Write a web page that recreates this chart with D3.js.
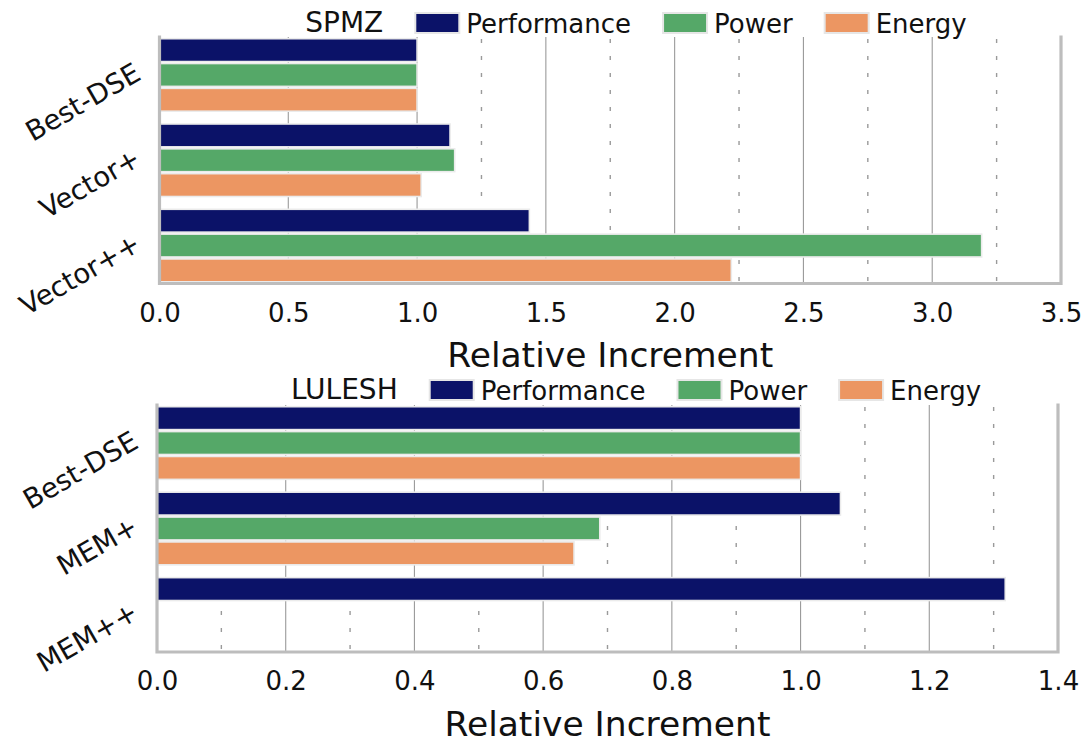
<!DOCTYPE html>
<html>
<head>
<meta charset="utf-8">
<script src="https://cdn.jsdelivr.net/npm/d3@7"></script>
<style>
  html, body { margin: 0; padding: 0; background: #ffffff; }
  svg { display: block; }
</style>
</head>
<body>
<svg id="chart" width="1089" height="747"></svg>
<script>
// ---- data ----
const seriesNames = ["Performance", "Power", "Energy"];

const spmzCategories = ["Best-DSE", "Vector+", "Vector++"];
const spmzPerformance = [1.0, 1.128, 1.436];
const spmzPower       = [1.0, 1.146, 3.192];
const spmzEnergy      = [1.0, 1.016, 2.220];
const spmzTicks       = [0.0, 0.5, 1.0, 1.5, 2.0, 2.5, 3.0, 3.5];
const spmzMinorTicks  = [0.25, 0.75, 1.25, 1.75, 2.25, 2.75, 3.25];

const luleshCategories = ["Best-DSE", "MEM+", "MEM++"];
const luleshPerformance = [1.0, 1.062, 1.318];
const luleshPower       = [1.0, 0.688, null];
const luleshEnergy      = [1.0, 0.648, null];
const luleshTicks       = [0.0, 0.2, 0.4, 0.6, 0.8, 1.0, 1.2, 1.4];
const luleshMinorTicks  = [0.1, 0.3, 0.5, 0.7, 0.9, 1.1, 1.3];

const axisTitle = "Relative Increment";

// ---- styling ----
const colors = { Performance: "#0b1268", Power: "#55a868", Energy: "#ec9662" };
const spineColor = "#bdbdbd";
const gridColor = "#9a9a9a";
const textFont = "'DejaVu Sans', sans-serif";

const panels = [
  { title: "SPMZ", categories: spmzCategories,
    values: [spmzPerformance, spmzPower, spmzEnergy],
    ticks: spmzTicks, minor: spmzMinorTicks, maxX: 3.5,
    left: 159.5, right: 1061, top: 37, bottom: 283.5, legendBase: 33 },
  { title: "LULESH", categories: luleshCategories,
    values: [luleshPerformance, luleshPower, luleshEnergy],
    ticks: luleshTicks, minor: luleshMinorTicks, maxX: 1.4,
    left: 157, right: 1058, top: 405, bottom: 652, legendBase: 400 }
];

const svg = d3.select("#chart");

panels.forEach(p => {
  const g = svg.append("g");

  const x = d3.scaleLinear().domain([0, p.maxX]).range([p.left, p.right]);
  const y = d3.scaleBand().domain(p.categories)
    .range([p.top, p.bottom]).paddingInner(0.15).paddingOuter(0.02);
  const yInner = d3.scaleBand().domain(seriesNames)
    .range([0, y.bandwidth()]).paddingInner(0.08);

  // grid: solid at major ticks, dashed at minor ticks
  g.append("g").selectAll("line").data(p.ticks.slice(1, -1)).join("line")
    .attr("x1", d => x(d)).attr("x2", d => x(d))
    .attr("y1", p.top).attr("y2", p.bottom)
    .attr("stroke", gridColor).attr("stroke-width", 1.1);
  g.append("g").selectAll("line").data(p.minor).join("line")
    .attr("x1", d => x(d)).attr("x2", d => x(d))
    .attr("y1", p.top + 2).attr("y2", p.bottom)
    .attr("stroke", gridColor).attr("stroke-width", 1.4)
    .attr("stroke-dasharray", "4 13");

  // bars
  const rows = [];
  p.categories.forEach((c, i) => {
    seriesNames.forEach((s, j) => {
      const v = p.values[j][i];
      if (v !== null) rows.push({ cat: c, series: s, value: v });
    });
  });
  g.append("g").selectAll("rect").data(rows).join("rect")
    .attr("x", x(0))
    .attr("y", d => y(d.cat) + yInner(d.series))
    .attr("width", d => x(d.value) - x(0))
    .attr("height", yInner.bandwidth())
    .attr("fill", d => colors[d.series])
    .attr("stroke", "#ebebeb").attr("stroke-width", 1.6);

  // spines (left, bottom, right)
  g.append("path")
    .attr("d", `M${p.left},${p.top}V${p.bottom}H${p.right}V${p.top}`)
    .attr("fill", "none").attr("stroke", spineColor).attr("stroke-width", 3.2)
    .attr("stroke-linejoin", "miter").attr("stroke-linecap", "square");

  // x axis tick labels
  const xAxis = d3.axisBottom(x).tickValues(p.ticks)
    .tickFormat(d3.format(".1f")).tickSize(0).tickPadding(0);
  const ax = g.append("g").attr("transform", `translate(0,${p.bottom})`).call(xAxis);
  ax.select(".domain").remove();
  ax.selectAll("text")
    .attr("y", 38).attr("dy", null)
    .attr("font-family", textFont).attr("font-size", 26).attr("fill", "#111");

  // category labels, rotated
  const yAxis = d3.axisLeft(y).tickSize(0).tickPadding(0);
  const ay = g.append("g").call(yAxis);
  ay.select(".domain").remove();
  ay.selectAll(".tick text")
    .attr("x", null).attr("dy", null)
    .attr("text-anchor", "end")
    .attr("dominant-baseline", "central")
    .attr("transform", `translate(${p.left - 22},-5) rotate(-30)`)
    .attr("font-family", textFont).attr("font-size", 27.5).attr("fill", "#111");

  // axis title
  g.append("text")
    .attr("x", (p.left + p.right) / 2).attr("y", p.bottom + 83.5)
    .attr("text-anchor", "middle")
    .attr("font-family", textFont).attr("font-size", 34.5).attr("fill", "#111")
    .text(axisTitle);

  // legend: title followed by colour patches
  const lg = g.append("g");
  const titleText = lg.append("text")
    .attr("y", p.legendBase - 1)
    .attr("font-family", textFont).attr("font-size", 28).attr("fill", "#111")
    .text(p.title);
  const titleW = titleText.node().getComputedTextLength();
  const items = seriesNames.map(s => {
    const t = lg.append("text").attr("y", p.legendBase)
      .attr("font-family", textFont).attr("font-size", 26).attr("fill", "#111")
      .text(s);
    return { name: s, node: t, w: t.node().getComputedTextLength() };
  });
  const patchW = 44, patchH = 20, gapPatch = 7, gapItem = 32;
  const total = titleW + items.reduce((a, it) => a + gapItem + patchW + gapPatch + it.w, 0);
  let cx = 636 - total / 2;
  titleText.attr("x", cx);
  cx += titleW;
  items.forEach(it => {
    cx += gapItem;
    lg.append("rect")
      .attr("x", cx).attr("y", p.legendBase - patchH)
      .attr("width", patchW).attr("height", patchH)
      .attr("fill", colors[it.name])
      .attr("stroke", "#e6e6e6").attr("stroke-width", 2);
    cx += patchW + gapPatch;
    it.node.attr("x", cx);
    cx += it.w;
  });
});
</script>
</body>
</html>
